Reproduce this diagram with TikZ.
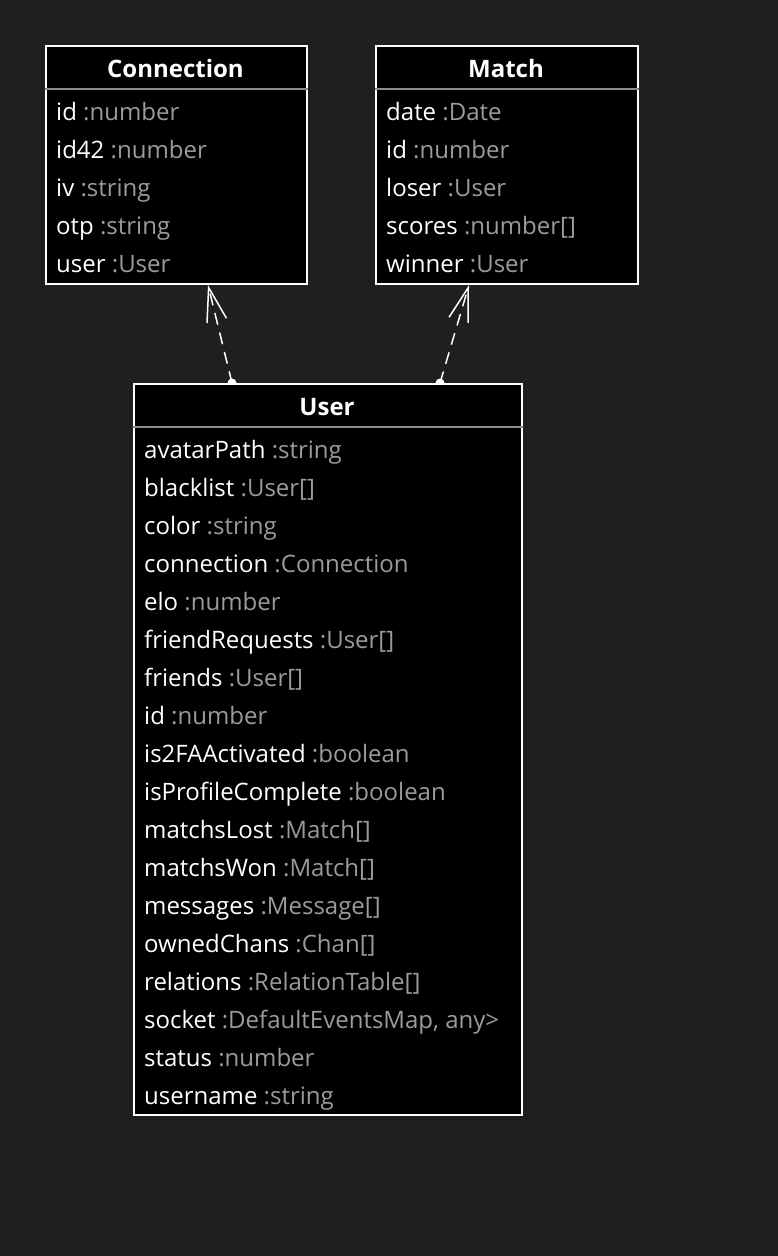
\documentclass[tikz,border=0pt]{standalone}
\usepackage{fontspec}
\setmainfont{Open Sans}
\usetikzlibrary{positioning,arrows.meta,backgrounds}
\definecolor{bgdark}{HTML}{1F1F1F}
\definecolor{typegray}{HTML}{9B9B9B}
\definecolor{sepgray}{HTML}{8C8C8C}

\begin{document}
\begin{tikzpicture}
        [x=1pt, y=-1pt, font=\fontsize{24}{28}\selectfont,
        classbox/.style={draw=white, line width=2pt, fill=black, anchor=north west, inner sep=0pt},
        classname/.style={text=white, anchor=base, inner sep=0pt, font=\fontsize{24}{28}\selectfont\bfseries},
        attr/.style={anchor=base west, inner sep=0pt, text=white},
        sepline/.style={draw=sepgray, line width=1.5pt},
        dep/.style={draw=white, line width=1.5pt, dash pattern=on 12pt off 8pt,
            -{Straight Barb[length=34pt,width=20pt]}}]
        \useasboundingbox (0,0) rectangle (778,1256);

        % classes
        \node [classbox, minimum width=261pt, minimum height=238pt] (conn) at (45,45) {};
        \node [classbox, minimum width=262pt, minimum height=238pt] (match) at (375,45) {};
        \node [classbox, minimum width=388pt, minimum height=731pt] (user) at (133,383) {};

        \node [classname] (conn-title) at (175.5,77) {Connection};
        \node [classname] (match-title) at (506,77) {Match};
        \node [classname] (user-title) at (327,415) {User};

        \draw [sepline] ([yshift=-44pt]conn.north west) -- ([yshift=-44pt]conn.north east);
        \draw [sepline] ([yshift=-44pt]match.north west) -- ([yshift=-44pt]match.north east);
        \draw [sepline] ([yshift=-44pt]user.north west) -- ([yshift=-44pt]user.north east);

        % attributes
        \foreach \n/\t [count=\i] in {id/number, id42/number, iv/string, otp/string, user/User}
            \node [attr] (conn-\i) at (56,{82+38*\i}) {\n\ \textcolor{typegray}{:\t}};
        \foreach \n/\t [count=\i] in {date/Date, id/number, loser/User, scores/number[], winner/User}
            \node [attr] (match-\i) at (386,{82+38*\i}) {\n\ \textcolor{typegray}{:\t}};
        \foreach \n/\t [count=\i] in {avatarPath/string, blacklist/User[], color/string,
            connection/Connection, elo/number, friendRequests/User[], friends/User[],
            id/number, is2FAActivated/boolean, isProfileComplete/boolean,
            matchsLost/Match[], matchsWon/Match[], messages/Message[], ownedChans/Chan[],
            relations/RelationTable[], socket/{DefaultEventsMap, any>}, status/number,
            username/string}
            \node [attr] (user-\i) at (144,{420+38*\i}) {\n\ \textcolor{typegray}{:\t}};

        % dependencies
        \begin{scope}[on background layer]
            \fill [bgdark] (0,0) rectangle (778,1256);
            \coordinate (dep1) at ([xshift=99pt]user.north west);
            \coordinate (dep2) at ([xshift=307pt]user.north west);
            \draw [dep] (dep1) -- ([xshift=163pt]conn.south west);
            \draw [dep] (dep2) -- ([xshift=94pt]match.south west);
            \fill [white] (dep1) circle (4.5pt);
            \fill [white] (dep2) circle (4.5pt);
        \end{scope}
\end{tikzpicture}
\end{document}
